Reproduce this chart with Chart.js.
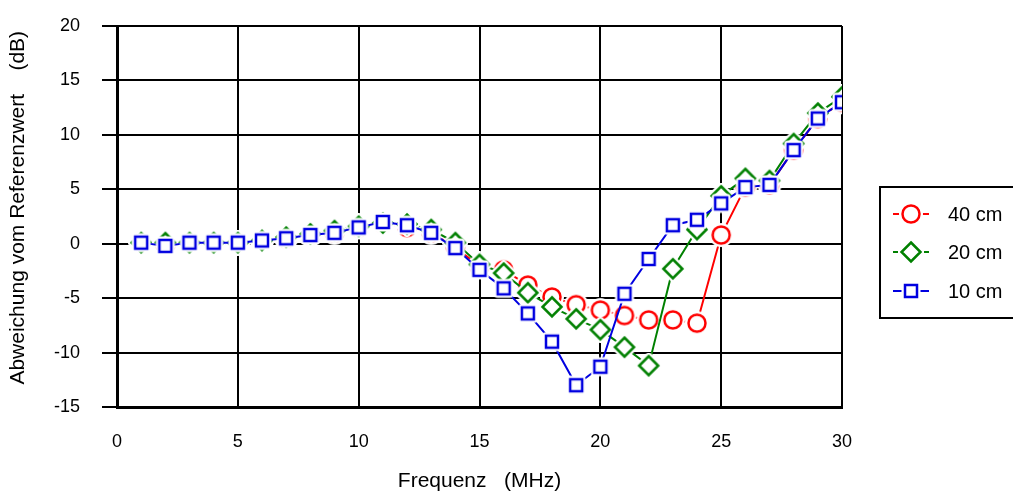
<!DOCTYPE html>
<html>
<head>
<meta charset="utf-8">
<script src="https://cdn.jsdelivr.net/npm/chart.js@4"></script>
<style>
  html, body { margin: 0; padding: 0; background: #fff; }
  #wrap { width: 1013px; height: 491px; position: relative; }
</style>
</head>
<body>
<div id="wrap"><canvas id="myChart" width="1013" height="491"></canvas></div>
<script>
const freq = [1,2,3,4,5,6,7,8,9,10,11,12,13,14,15,16,17,18,19,20,21,22,23,24,25,26,27,28,29,30];
const cm40 = [0.1,-0.1,0.1,0.1,0.1,0.3,0.5,0.8,1.0,1.5,1.9,1.5,1.0,-0.3,-2.1,-2.4,-3.8,-4.9,-5.6,-6.1,-6.6,-7.0,-7.0,-7.3,0.8,5.2,5.4,8.6,11.5,13.0];
const cm20 = [0.1,0.1,0.1,0.1,0.1,0.3,0.6,0.9,1.2,1.6,1.9,1.8,1.3,0.1,-1.9,-2.7,-4.5,-5.8,-6.9,-7.9,-9.5,-11.2,-2.3,1.3,4.4,6.0,5.8,9.2,12.0,13.5];
const cm10 = [0.1,-0.2,0.1,0.1,0.1,0.3,0.5,0.8,1.0,1.5,2.0,1.7,1.0,-0.4,-2.4,-4.1,-6.4,-9.0,-13.0,-11.3,-4.6,-1.4,1.7,2.2,3.7,5.2,5.4,8.6,11.5,13.0];
const seriesNames = ['40 cm', '20 cm', '10 cm'];

const fontFam = '"Liberation Sans", Arial, sans-serif';
const red = '#ff0000', green = '#008000', blue = '#0000e0';

// marker images with a white halo around them
function marker(kind, color) {
    const c = document.createElement('canvas');
    c.width = 26; c.height = 26;
    const g = c.getContext('2d');
    const m = 13;
    function path() {
        g.beginPath();
        if (kind === 'circle') g.arc(m, m, 8.5, 0, Math.PI * 2);
        else if (kind === 'diamond') { g.moveTo(m, m - 9.5); g.lineTo(m + 9.5, m); g.lineTo(m, m + 9.5); g.lineTo(m - 9.5, m); g.closePath(); }
        else g.rect(m - 6, m - 6, 12, 12);
    }
    path();
    g.lineWidth = 7; g.strokeStyle = '#fff'; g.lineJoin = 'round'; g.stroke();
    g.fillStyle = '#fff'; g.fill();
    path();
    g.lineWidth = 2.5; g.strokeStyle = color; g.lineJoin = 'miter'; g.stroke();
    return c;
}
const mk40 = marker('circle', red);
const mk20 = marker('diamond', green);
const mk10 = marker('square', blue);

function pts(ys) { return freq.map((x, i) => ({ x: x, y: ys[i] })); }

const boxLegend = {
    id: 'boxLegend',
    afterDraw(chart) {
        const ctx = chart.ctx;
        ctx.save();
        ctx.lineWidth = 2;
        ctx.strokeStyle = '#000';
        ctx.strokeRect(880, 187, 140, 131);
        const rows = [[mk40, red, 214], [mk20, green, 252], [mk10, blue, 291]];
        ctx.font = '20px ' + fontFam;
        ctx.textBaseline = 'middle';
        rows.forEach((r, i) => {
            ctx.strokeStyle = r[1];
            ctx.lineWidth = 2;
            ctx.beginPath();
            ctx.moveTo(893, r[2]); ctx.lineTo(929, r[2]);
            ctx.stroke();
            ctx.drawImage(r[0], 911 - 13, r[2] - 13);
            ctx.fillStyle = '#000';
            ctx.fillText(seriesNames[i], 948, r[2] + 1);
        });
        ctx.restore();
    }
};

const ctx = document.getElementById('myChart').getContext('2d');
const myChart = new Chart(ctx, {
    type: 'line',
    data: {
        datasets: [
            { label: seriesNames[2], data: pts(cm10), borderColor: blue, pointStyle: mk10, order: 0 },
            { label: seriesNames[1], data: pts(cm20), borderColor: green, pointStyle: mk20, order: 1 },
            { label: seriesNames[0], data: pts(cm40), borderColor: red, pointStyle: mk40, order: 2 }
        ]
    },
    options: {
        responsive: false,
        animation: false,
        devicePixelRatio: 1,
        layout: { padding: { top: 26, right: 171, bottom: 0, left: 0 } },
        elements: {
            line: { borderWidth: 2, tension: 0, fill: false },
            point: { radius: 10, hoverRadius: 10 }
        },
        plugins: { legend: { display: false }, tooltip: { enabled: false } },
        scales: {
            x: {
                type: 'linear', min: 0, max: 30,
                afterFit(s) { s.height = 84; s.paddingLeft = 0; s.paddingRight = 0; },
                ticks: { stepSize: 5, color: '#000', padding: 24, font: { size: 18, family: fontFam } },
                grid: { color: '#000', lineWidth: 2, drawTicks: false },
                border: { color: '#000', width: 3 },
                title: { display: true, text: 'Frequenz   (MHz)', color: '#000', font: { size: 21, family: fontFam }, padding: { top: 10, bottom: -3 } }
            },
            y: {
                min: -15, max: 20,
                afterFit(s) { s.width = 117; s.paddingTop = 0; s.paddingBottom = 0; },
                ticks: { stepSize: 5, color: '#000', padding: 22, font: { size: 18, family: fontFam } },
                grid: { color: '#000', lineWidth: 2, tickLength: 15 },
                border: { color: '#000', width: 3 },
                title: { display: true, text: '   Abweichung vom Referenzwert    (dB)', color: '#000', font: { size: 21, family: fontFam }, padding: { top: 6, bottom: 0 } }
            }
        }
    },
    plugins: [boxLegend]
});
</script>
</body>
</html>
